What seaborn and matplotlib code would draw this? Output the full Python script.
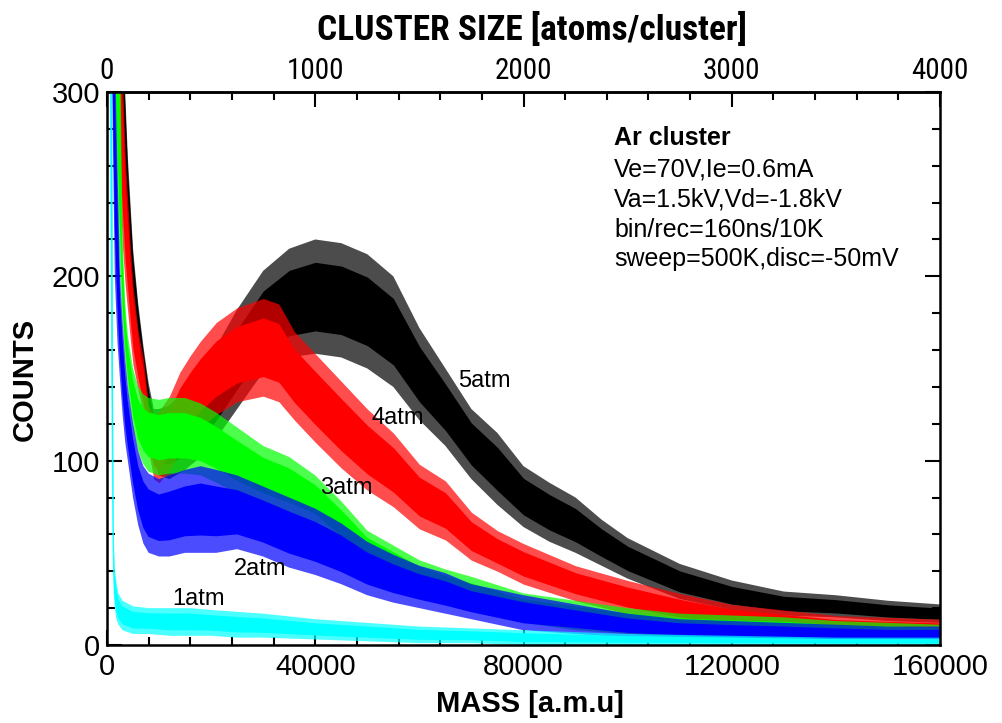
import numpy as np
import pandas as pd
import matplotlib
matplotlib.use("Agg")
import matplotlib.pyplot as plt
import matplotlib.font_manager as fm
from matplotlib.ticker import MultipleLocator, FixedLocator
import seaborn as sns

# ---- spectra: lower / upper envelope of the noisy counts (per mass bin) ----
mass_1atm = [400, 600, 800, 1000, 1150, 1300, 1500, 1800, 2200, 3000, 5000, 8000, 12000, 16000,
             20000, 25000, 30000, 40000, 50000, 60000, 70000, 80000, 100000, 120000, 140000, 160000]
lo_1atm = [380, 300, 150, 60, 40, 28, 20, 14, 11, 8, 6, 6, 5, 5,
           5, 4, 4, 3, 2, 1, 1, 0, 0, 0, 0, 0]
hi_1atm = [480, 420, 360, 320, 150, 60, 42, 34, 28, 24, 21, 20, 20, 20,
           19, 18, 17, 14, 12, 10, 9, 8, 6, 5, 4, 4]

mass_2atm = [800, 1000, 1500, 2000, 2500, 3000, 3500, 4000, 5000, 6000, 7000, 8000, 10000, 12000,
             15000, 18000, 21000, 25000, 30000, 35000, 40000, 45000, 50000, 55000, 60000, 65000,
             70000, 75000, 80000, 90000, 100000, 110000, 120000, 130000, 140000, 150000, 160000]
lo_2atm = [420, 300, 200, 165, 144, 125, 110, 100, 80, 65, 55, 50, 48, 48,
           50, 50, 50, 52, 48, 42, 38, 33, 27, 23, 20, 17,
           14, 11, 8, 6, 4, 3, 2, 2, 1, 1, 1]
hi_2atm = [480, 400, 330, 260, 200, 175, 155, 140, 120, 105, 97, 93, 90, 92,
           95, 97, 95, 92, 86, 80, 74, 66, 56, 49, 43, 39,
           33, 30, 27, 22, 17, 14, 13, 12, 11, 10, 10]

mass_3atm = [1200, 1500, 2000, 2500, 3000, 3500, 4000, 5000, 6000, 7000, 8000, 10000, 12000, 15000,
             18000, 21000, 25000, 30000, 35000, 40000, 45000, 50000, 55000, 60000, 65000, 70000,
             80000, 90000, 100000, 110000, 120000, 130000, 140000, 150000, 160000]
lo_3atm = [380, 300, 240, 200, 175, 155, 140, 118, 105, 98, 94, 92, 93, 93,
           92, 88, 82, 76, 71, 66, 54, 43, 36, 29, 23, 19,
           12, 8, 6, 4, 3, 3, 2, 2, 2]
hi_3atm = [440, 410, 380, 330, 220, 185, 168, 150, 140, 136, 134, 133, 134, 134,
           131, 126, 118, 108, 102, 92, 78, 62, 54, 46, 41, 37,
           28, 24, 20, 17, 16, 15, 13, 12, 11]

mass_4atm = [1800, 2000, 2500, 3000, 3500, 4000, 4500, 5000, 6000, 7000, 8000, 9000, 10000, 12000,
             14000, 16000, 18000, 21000, 25000, 30000, 33000, 36000, 40000, 45000, 50000, 55000,
             60000, 65000, 70000, 75000, 80000, 90000, 100000, 110000, 120000, 130000, 140000,
             150000, 160000]
lo_4atm = [330, 290, 245, 215, 195, 180, 165, 152, 138, 125, 105, 90, 88, 95,
           105, 112, 118, 125, 132, 135, 132, 122, 110, 96, 84, 75,
           63, 57, 46, 40, 33, 24, 17, 12, 9, 7, 5,
           4, 4]
hi_4atm = [380, 360, 330, 305, 265, 240, 215, 195, 170, 155, 130, 124, 127, 135,
           148, 157, 165, 175, 183, 188, 185, 170, 158, 143, 128, 115,
           98, 89, 72, 62, 55, 43, 35, 28, 22, 19, 16,
           15, 14]

mass_5atm = [2200, 2500, 3000, 3500, 4000, 4500, 5000, 6000, 7000, 8000, 9000, 10000, 12000, 15000,
             18000, 21000, 25000, 30000, 35000, 40000, 45000, 50000, 55000, 60000, 65000, 70000,
             75000, 80000, 85000, 90000, 95000, 100000, 110000, 120000, 130000, 140000, 150000,
             160000]
lo_5atm = [340, 300, 265, 235, 212, 195, 182, 162, 140, 118, 100, 92, 90, 95,
           102, 112, 128, 148, 156, 158, 156, 150, 140, 122, 108, 90,
           76, 64, 56, 50, 43, 36, 25, 19, 16, 15, 13,
           12]
hi_5atm = [420, 380, 340, 300, 265, 240, 215, 185, 162, 142, 128, 128, 130, 138,
           150, 162, 182, 203, 215, 220, 218, 212, 200, 172, 150, 128,
           115, 97, 88, 80, 68, 58, 44, 35, 29, 27, 24,
           22]

pressures = ["5atm", "4atm", "3atm", "2atm", "1atm"]
colors = ["#000000", "#ff0000", "#00ff00", "#0000ff", "#00ffff"]

# where each curve's name is written: (left mass, counts)
label_mass = [67400, 50900, 40900, 24400, 12500]
label_counts = [143, 123, 85, 41, 25]

info_title = "Ar cluster"
info_lines = ["Ve=70V,Ie=0.6mA", "Va=1.5kV,Vd=-1.8kV", "bin/rec=160ns/10K", "sweep=500K,disc=-50mV"]

size_ticks = [0, 1000, 2000, 3000, 4000]
AR_MASS = 40.0  # a.m.u. per argon atom

# ---- long-form table: two rows per mass bin (lower and upper envelope) ----
series = {
    "1atm": (mass_1atm, lo_1atm, hi_1atm),
    "2atm": (mass_2atm, lo_2atm, hi_2atm),
    "3atm": (mass_3atm, lo_3atm, hi_3atm),
    "4atm": (mass_4atm, lo_4atm, hi_4atm),
    "5atm": (mass_5atm, lo_5atm, hi_5atm),
}
rows = []
for name, (m, lo, hi) in series.items():
    for mi, a, b in zip(m, lo, hi):
        rows.append((name, mi, a))
        rows.append((name, mi, b))
df = pd.DataFrame(rows, columns=["pressure", "mass", "counts"])

sns.set_style("ticks")
names = {f.name for f in fm.fontManager.ttflist}
base_font = "Liberation Sans" if "Liberation Sans" in names else "DejaVu Sans"
plt.rcParams["font.family"] = [base_font, "DejaVu Sans"]
plt.rcParams["axes.linewidth"] = 1.8
for key in ("text.color", "axes.labelcolor", "xtick.color", "ytick.color", "axes.edgecolor"):
    plt.rcParams[key] = "black"


def condensed_font(bold):
    """Pick a narrow sans face for the cluster-size axis, if one is installed."""
    best = None
    for f in fm.fontManager.ttflist:
        narrow = ("Narrow" in f.name or "Condensed" in f.name
                  or str(f.stretch) in ("condensed", "semi-condensed", "extra-condensed"))
        if not narrow or "Mono" in f.name or "Serif" in f.name:
            continue
        w = f.weight if isinstance(f.weight, int) else (700 if "bold" in str(f.weight) else 400)
        if (w >= 600) != bold or f.style != "normal":
            continue
        rank = 0 if "Liberation" in f.name else (1 if "Roboto" in f.name else 2)
        if best is None or rank < best[0]:
            best = (rank, f.fname)
    if best is None:
        return fm.FontProperties(family=base_font, weight="bold" if bold else "normal")
    return fm.FontProperties(fname=best[1])


narrow_reg = condensed_font(False)
narrow_bold = condensed_font(True)

fig = plt.figure(figsize=(10.03, 7.23), dpi=100)
ax = fig.add_axes([107 / 1003, 78 / 723, 833 / 1003, 553 / 723])

# each spectrum: a softer outer band (full spread) and a dense core band
for name, c in zip(pressures, colors):
    sub = df[df["pressure"] == name]
    sns.lineplot(data=sub, x="mass", y="counts", color=c, estimator="mean",
                 errorbar=("pi", 100), err_kws={"alpha": 0.7, "linewidth": 0},
                 linewidth=0, legend=False, ax=ax)
    sns.lineplot(data=sub, x="mass", y="counts", color=c, estimator="mean",
                 errorbar=("pi", 60), err_kws={"alpha": 1.0, "linewidth": 0},
                 linewidth=0, legend=False, ax=ax)

ax.set_xlim(0, 160000)
ax.set_ylim(0, 300)
ax.set_xlabel("")
ax.set_ylabel("")

ax.xaxis.set_major_locator(FixedLocator([0, 40000, 80000, 120000, 160000]))
ax.xaxis.set_minor_locator(MultipleLocator(8000))
ax.yaxis.set_major_locator(FixedLocator([0, 100, 200, 300]))
ax.yaxis.set_minor_locator(MultipleLocator(20))
ax.tick_params(which="both", direction="in", top=False, right=True, width=1.5, colors="black")
ax.tick_params(which="major", length=11, labelsize=21, pad=6)
ax.tick_params(which="minor", length=5.5)
ax.tick_params(axis="y", which="major", pad=5)
for s in ax.spines.values():
    s.set_visible(True)
    s.set_color("black")

# cluster size axis on top (atoms per cluster = mass / 40)
top = ax.secondary_xaxis("top", functions=(lambda m: m / AR_MASS, lambda n: n * AR_MASS))
top.xaxis.set_major_locator(FixedLocator(size_ticks))
top.xaxis.set_minor_locator(MultipleLocator(200))
top.tick_params(which="both", direction="in", width=1.5, colors="black")
top.tick_params(which="major", length=11, pad=5)
top.tick_params(which="minor", length=5.5)
top.set_xticks(size_ticks)
top.set_xticklabels([str(v) for v in size_ticks], fontproperties=narrow_reg, fontsize=21,
                    color="black")
top.spines["top"].set_linewidth(1.8)

fig.text(532 / 1003, 1 - 29 / 723, "CLUSTER SIZE [atoms/cluster]", ha="center", va="center",
         fontproperties=narrow_bold, fontsize=25.5, fontweight="bold", color="black")
fig.text(530 / 1003, 1 - 704 / 723, "MASS [a.m.u]", ha="center", va="center",
         fontsize=21, fontweight="bold", color="black")
fig.text(25 / 1003, 1 - 379 / 723, "COUNTS", ha="center", va="center", rotation=90,
         fontsize=21, fontweight="bold", color="black")

for name, xm, yc in zip(pressures, label_mass, label_counts):
    ax.text(xm, yc, name, ha="left", va="center", fontsize=17, color="black")

x_info = (614 - 107) / 833
baselines = [145, 176, 207, 237, 266]
ax.text(x_info, (645 - baselines[0]) / 553, info_title, transform=ax.transAxes,
        ha="left", va="baseline", fontsize=18, fontweight="bold", color="black")
for line, b in zip(info_lines, baselines[1:]):
    ax.text(x_info, (645 - b) / 553, line, transform=ax.transAxes,
            ha="left", va="baseline", fontsize=18, color="black")

fig.savefig("out.png", dpi=100)
